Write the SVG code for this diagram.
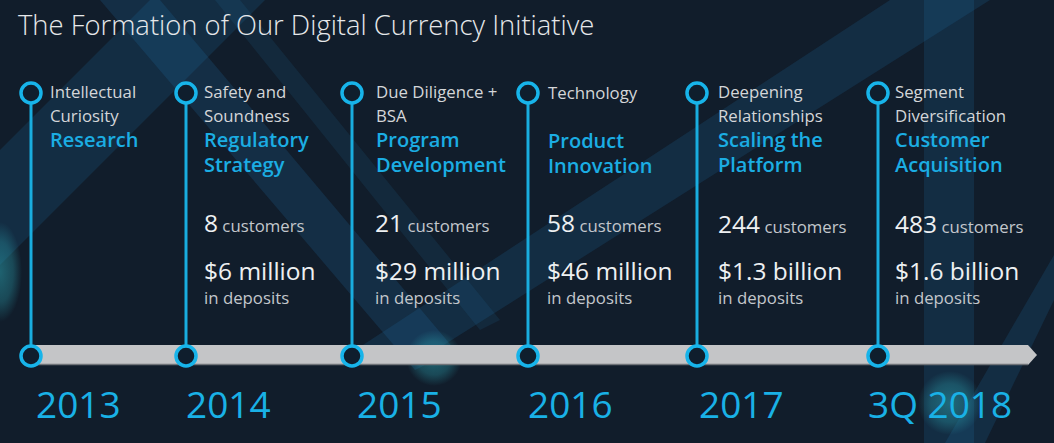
<svg xmlns="http://www.w3.org/2000/svg" width="1054" height="443" viewBox="0 0 1054 443">
<style>
.gray{font-family:"Open Sans","Noto Sans",sans-serif;font-size:16.8px;fill:#d4d6d9}
.head{font-family:"Open Sans","Noto Sans",sans-serif;font-size:20px;font-weight:600;fill:#1badE3}
.num{font-family:"Open Sans","Noto Sans",sans-serif;font-size:24.5px;fill:#eef0f2}
.unit{font-family:"Open Sans","Noto Sans",sans-serif;font-size:16.8px;fill:#c3c7cc}
.year{font-family:"Open Sans","Noto Sans",sans-serif;font-size:37px;fill:#19b1e6}
.vline{stroke:#19addf;stroke-width:3}
.dot{fill:#0f1e2d;stroke:#17b4ea;stroke-width:3.5}
.band{fill:#1f6fa3}
</style>
<defs>
<radialGradient id="glow" cx="0.5" cy="0.5" r="0.5">
<stop offset="0" stop-color="#2a9aa8" stop-opacity="0.55"/>
<stop offset="0.6" stop-color="#2a9aa8" stop-opacity="0.35"/>
<stop offset="1" stop-color="#2a9aa8" stop-opacity="0"/>
</radialGradient>
</defs>
<rect width="1054" height="443" fill="#111d2b"/>
<g id="background">
<polygon class="band" points="0,150 0,265 265,0 150,0" opacity="0.2"/>
<polygon class="band" points="100,0 160,0 455,350 415,370" opacity="0.22"/>
<polygon class="band" points="215,0 240,0 500,320 480,330" opacity="0.15"/>
<polygon class="band" points="340,360 420,360 990,0 890,0" opacity="0.2"/>
<rect class="band" x="924" y="0" width="50" height="443" opacity="0.2"/>
<polygon class="band" points="1054,255 1054,300 985,443 945,443" opacity="0.2"/>
</g>
<circle cx="434" cy="358" r="28" fill="url(#glow)"/>
<circle cx="950" cy="403" r="32" fill="url(#glow)"/>
<ellipse cx="0" cy="272" rx="22" ry="50" fill="url(#glow)"/>
<text x="18" y="35" font-family="Open Sans, Noto Sans, sans-serif" font-size="27.4" font-weight="300" fill="#e6e8ea">The Formation of Our Digital Currency Initiative</text>
<g id="connectors">
<polygon points="30,345 1028,345 1037,355 1028,365 30,365" fill="#c4c5c7"/>
<line x1="30" y1="364.5" x2="1028" y2="364.5" stroke="#6f7378" stroke-width="1.5"/>
<line class="vline" x1="31" y1="104" x2="31" y2="345"/>
<line class="vline" x1="186" y1="104" x2="186" y2="345"/>
<line class="vline" x1="352" y1="104" x2="352" y2="345"/>
<line class="vline" x1="528" y1="104" x2="528" y2="345"/>
<line class="vline" x1="697" y1="104" x2="697" y2="345"/>
<line class="vline" x1="878" y1="104" x2="878" y2="345"/>
</g>
<g id="node-2013">
<circle class="dot" cx="31" cy="93" r="10"/>
<circle class="dot" cx="31" cy="356" r="10"/>
<text class="gray" x="50" y="98">Intellectual</text>
<text class="gray" x="50" y="122">Curiosity</text>
<text class="head" x="50" y="147">Research</text>
<text class="year" x="36" y="418">2013</text>
</g>
<g id="node-2014">
<circle class="dot" cx="186" cy="93" r="10"/>
<circle class="dot" cx="186" cy="356" r="10"/>
<text class="gray" x="204" y="98">Safety and</text>
<text class="gray" x="204" y="122">Soundness</text>
<text class="head" x="204" y="147">Regulatory</text>
<text class="head" x="204" y="172">Strategy</text>
<text x="204" y="232"><tspan class="num">8</tspan><tspan class="unit"> customers</tspan></text>
<text class="num" x="204" y="280">$6 million</text>
<text class="unit" x="204" y="304">in deposits</text>
<text class="year" x="186" y="418">2014</text>
</g>
<g id="node-2015">
<circle class="dot" cx="352" cy="93" r="10"/>
<circle class="dot" cx="352" cy="356" r="10"/>
<text class="gray" x="376" y="98">Due Diligence +</text>
<text class="gray" x="376" y="122">BSA</text>
<text class="head" x="376" y="147">Program</text>
<text class="head" x="376" y="172">Development</text>
<text x="375" y="232"><tspan class="num">21</tspan><tspan class="unit"> customers</tspan></text>
<text class="num" x="375" y="280">$29 million</text>
<text class="unit" x="375" y="304">in deposits</text>
<text class="year" x="357" y="418">2015</text>
</g>
<g id="node-2016">
<circle class="dot" cx="528" cy="93" r="10"/>
<circle class="dot" cx="528" cy="356" r="10"/>
<text class="gray" x="548" y="99">Technology</text>
<text class="head" x="548" y="148">Product</text>
<text class="head" x="548" y="173">Innovation</text>
<text x="547" y="232"><tspan class="num">58</tspan><tspan class="unit"> customers</tspan></text>
<text class="num" x="547" y="280">$46 million</text>
<text class="unit" x="547" y="304">in deposits</text>
<text class="year" x="528" y="418">2016</text>
</g>
<g id="node-2017">
<circle class="dot" cx="697" cy="93" r="10"/>
<circle class="dot" cx="697" cy="356" r="10"/>
<text class="gray" x="718" y="98">Deepening</text>
<text class="gray" x="718" y="122">Relationships</text>
<text class="head" x="718" y="147">Scaling the</text>
<text class="head" x="718" y="172">Platform</text>
<text x="718" y="233"><tspan class="num">244</tspan><tspan class="unit"> customers</tspan></text>
<text class="num" x="718" y="280">$1.3 billion</text>
<text class="unit" x="718" y="304">in deposits</text>
<text class="year" x="699" y="418">2017</text>
</g>
<g id="node-2018">
<circle class="dot" cx="878" cy="93" r="10"/>
<circle class="dot" cx="878" cy="356" r="10"/>
<text class="gray" x="895" y="98">Segment</text>
<text class="gray" x="895" y="122">Diversification</text>
<text class="head" x="895" y="147">Customer</text>
<text class="head" x="895" y="172">Acquisition</text>
<text x="895" y="233"><tspan class="num">483</tspan><tspan class="unit"> customers</tspan></text>
<text class="num" x="895" y="280">$1.6 billion</text>
<text class="unit" x="895" y="304">in deposits</text>
<text class="year" x="868" y="418">3Q 2018</text>
</g>
</svg>
